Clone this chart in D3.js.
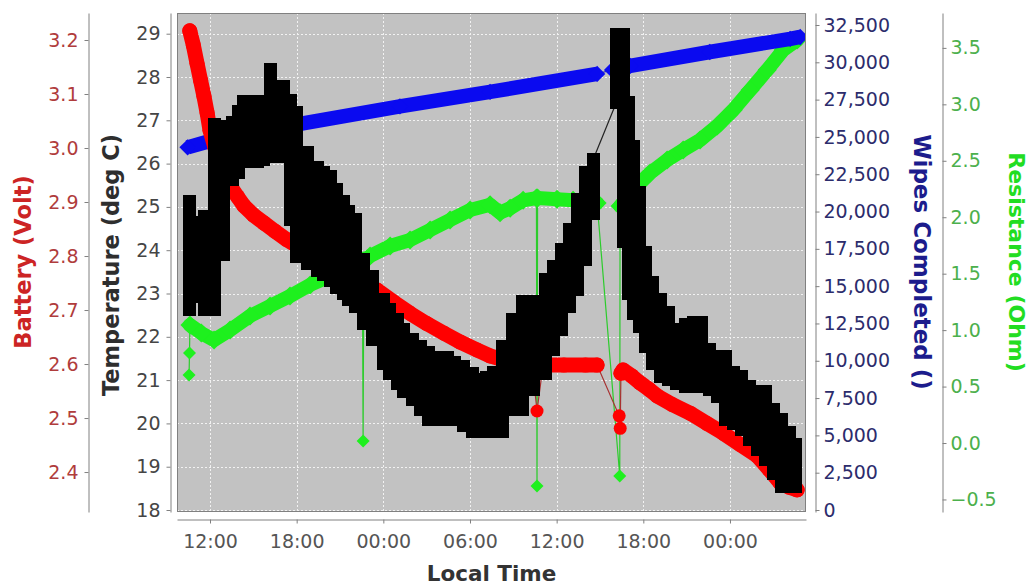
<!DOCTYPE html>
<html><head><meta charset="utf-8">
<script src="https://cdn.jsdelivr.net/npm/d3@7"></script>
<style>
html,body{margin:0;padding:0;background:#fff;}
svg{display:block;font-family:"DejaVu Sans",sans-serif;}
</style></head>
<body><svg id="chart" width="1030" height="588"></svg>
<script>
// ---------------- DATA (hours counted from midnight of the first day) ----------------
const batteryHours = [10.60,10.85,11.10,11.35,11.58,11.80,12.00,12.35,12.69,13.00,13.39,13.90,14.35,15.00,15.74,16.50,17.33,18.02,19.50,21.00,22.50,23.57,24.70,25.85,27.00,28.20,29.30,30.49,31.39,32.50,33.50,34.30,35.06,36.50,38.00,38.80,39.60,40.45,40.60,41.20,41.78,42.40,42.96,44.00,45.24,46.40,47.53,48.70,49.88,50.70,51.47,52.10,52.65];
const batteryVolts = [3.217,3.190,3.157,3.125,3.096,3.065,3.033,3.000,2.972,2.950,2.930,2.910,2.893,2.876,2.861,2.846,2.830,2.819,2.797,2.775,2.752,2.737,2.715,2.694,2.675,2.657,2.641,2.626,2.615,2.606,2.600,2.599,2.598,2.598,2.598,2.598,null,2.583,2.589,2.578,2.565,2.553,2.541,2.525,2.509,2.490,2.472,2.451,2.430,2.405,2.380,2.372,2.367];
const batterySpikeHours = [34.64,40.33,40.40];
const batterySpikeVolts = [2.513,2.504,2.481];

const tempHours = [10.61,11.17,11.65,12.28,12.90,13.59,13.94,14.35,14.84,15.32,15.70,16.16,17.06,17.54,18.02,18.72,19.41,19.86,20.31,20.76,21.21,21.62,22.04,22.60,23.22,23.98,24.46,24.95,25.43,25.99,26.54,27.10,27.72,28.41,28.96,29.52,30.14,30.70,31.15,31.60,32.22,32.91,33.61,34.37,35.20,35.75,36.31,36.86,37.42,37.97,38.52,40.12,40.60,40.95,41.29,41.71,42.12,42.61,43.16,43.72,44.27,44.90,45.45,46.00,46.56,47.11,47.67,48.22,48.77,49.33,49.88,50.43,50.99,51.54,52.10,52.51];
const tempLow  = [22.63,22.93,22.63,22.63,23.90,25.63,25.80,26.05,26.05,26.05,26.10,26.16,26.16,24.70,23.85,23.69,23.53,23.44,23.30,23.14,23.00,22.86,22.70,22.31,21.94,21.38,21.15,20.92,20.74,20.55,20.32,20.09,20.09,20.09,20.09,19.95,19.81,19.81,19.81,19.81,19.81,20.32,20.32,20.78,21.15,21.71,22.17,22.70,23.09,23.79,24.85,27.40,24.20,23.00,22.54,22.24,21.78,21.38,21.08,21.01,20.92,20.85,20.85,20.85,20.78,20.62,20.09,20.00,19.86,19.63,19.40,19.17,18.84,18.54,18.54,18.54];
const tempHigh = [25.12,24.64,24.78,26.90,26.86,26.95,27.20,27.43,27.43,27.43,27.43,28.17,27.78,27.45,27.18,26.26,25.91,25.80,25.70,25.40,25.12,24.90,24.71,23.79,23.39,22.86,22.63,22.40,22.17,21.94,21.78,21.64,21.52,21.52,21.40,21.31,21.15,21.01,21.05,21.18,21.78,22.40,22.82,22.82,23.32,23.62,24.02,24.48,25.17,25.79,26.09,28.98,28.98,27.41,26.39,25.33,23.95,23.25,22.86,22.56,22.17,22.28,22.33,22.33,21.71,21.55,21.55,21.18,21.08,20.85,20.74,20.74,20.32,20.09,19.79,19.51];

const wipesHours = [10.45,12.00,18.23,25.15,31.39,38.80,39.30,39.84,41.09,46.60,52.17,52.86];
const wipesCount = [24300,24730,25870,27050,28016,29223,null,29490,29760,30690,31568,31700];

const resistHours = [10.61,11.40,12.28,13.39,14.77,16.16,17.54,18.93,20.31,21.70,22.55,22.65,23.08,24.47,25.85,27.24,28.62,30.01,31.39,32.08,32.78,33.68,34.60,34.68,36.03,37.14,38.32,38.80,39.60,40.39,41.29,42.47,43.65,44.76,45.93,47.11,48.22,49.40,50.57,51.68,52.65];
const resistOhm = [1.045,0.974,0.912,1.000,1.125,1.213,1.302,1.400,1.479,1.568,1.610,1.615,1.656,1.745,1.798,1.887,1.975,2.064,2.110,2.040,2.080,2.150,2.170,2.170,2.160,2.150,2.130,2.126,null,2.099,2.241,2.392,2.507,2.595,2.684,2.808,2.950,3.127,3.304,3.481,3.570];
const resistSpikeHours = [10.55,10.58,22.60,34.64,40.37];
const resistSpikeOhm = [0.602,0.797,0.018,-0.381,-0.292];

const batteryTicks = [2.4,2.5,2.6,2.7,2.8,2.9,3.0,3.1,3.2];
const tempTicks = [18,19,20,21,22,23,24,25,26,27,28,29];
const wipesTicks = [0,2500,5000,7500,10000,12500,15000,17500,20000,22500,25000,27500,30000,32500];
const resistTicks = [-0.5,0,0.5,1.0,1.5,2.0,2.5,3.0,3.5];

const titles = {battery:"Battery (Volt)", temp:"Temperature (deg C)", wipes:"Wipes Completed ()", resist:"Resistance (Ohm)", time:"Local Time"};

// ---------------- SETUP ----------------
const day0 = new Date(2011, 5, 6, 0, 0, 0);
const T = h => new Date(day0.getTime() + h * 3600000);
const svg = d3.select("#chart");
const P = {left:177, right:806, top:13, bottom:512};
const FONT = '"DejaVu Sans", sans-serif';

const x = d3.scaleTime().domain([T(9.715), T(53.263)]).range([P.left, P.right]);
const yB = d3.scaleLinear().domain([2.326, 3.25]).range([P.bottom, P.top]);
const yT = d3.scaleLinear().domain([17.954, 29.478]).range([P.bottom, P.top]);
const yW = d3.scaleLinear().domain([-134, 33304]).range([P.bottom, P.top]);
const yR = d3.scaleLinear().domain([-0.611, 3.809]).range([P.bottom, P.top]);

// plot background
svg.append("rect").attr("x",P.left).attr("y",P.top).attr("width",P.right-P.left).attr("height",P.bottom-P.top).attr("fill","#c2c2c2");

// gridlines
const timeTicks = x.ticks(d3.timeHour.every(6));
const grid = svg.append("g").attr("stroke","#f2f2f2").attr("stroke-width",1).attr("stroke-dasharray","2,2");
grid.selectAll("line.v").data(timeTicks).join("line").attr("class","v")
  .attr("x1",d=>Math.round(x(d))+0.5).attr("x2",d=>Math.round(x(d))+0.5).attr("y1",P.top).attr("y2",P.bottom);
grid.selectAll("line.h").data(tempTicks).join("line").attr("class","h")
  .attr("y1",d=>Math.round(yT(d))+0.5).attr("y2",d=>Math.round(yT(d))+0.5).attr("x1",P.left).attr("x2",P.right);

svg.append("clipPath").attr("id","clip").append("rect").attr("x",P.left).attr("y",P.top).attr("width",P.right-P.left).attr("height",P.bottom-P.top);
const layer = svg.append("g").attr("clip-path","url(#clip)");

const diamond = s => `M0,${-s}L${s},0L0,${s}L${-s},0Z`;

function drawSeries(g, hours, values, spikeH, spikeV, y, o) {
  const main = hours.map((h,i)=>({t:T(h), v:values[i]}));
  const spikes = spikeH.map((h,i)=>({t:T(h), v:spikeV[i]}));
  const all = main.filter(d=>d.v!=null).concat(spikes).sort((a,b)=>a.t-b.t);
  g.append("path").datum(all).attr("fill","none").attr("stroke",o.thin).attr("stroke-width",1.2)
    .attr("d", d3.line().x(d=>x(d.t)).y(d=>y(d.v)));
  g.append("path").datum(main).attr("fill","none").attr("stroke",o.color).attr("stroke-width",o.band)
    .attr("stroke-linecap",o.cap).attr("stroke-linejoin","round")
    .attr("d", d3.line().defined(d=>d.v!=null).x(d=>x(d.t)).y(d=>y(d.v)));
  const pts = main.filter(d=>d.v!=null);
  if (o.shape === "circle") {
    g.selectAll(null).data(pts).join("circle").attr("cx",d=>x(d.t)).attr("cy",d=>y(d.v)).attr("r",o.size).attr("fill",o.color);
  } else {
    g.selectAll(null).data(pts).join("path").attr("transform",d=>`translate(${x(d.t)},${y(d.v)})`).attr("d",diamond(o.size)).attr("fill",o.color);
  }
  return spikes;
}

// resistance (green)
const gG = layer.append("g");
const rSp = drawSeries(gG, resistHours, resistOhm, resistSpikeHours, resistSpikeOhm, yR, {color:"#1ef01e", thin:"#2ccc2c", band:14, cap:"round", shape:"diamond", size:9.5});
gG.selectAll(null).data(rSp).join("path").attr("transform",d=>`translate(${x(d.t)},${yR(d.v)})`).attr("d",diamond(6.5)).attr("fill","#1ef01e");

// wipes (blue)
const gW = layer.append("g");
drawSeries(gW, wipesHours, wipesCount, [], [], yW, {color:"#0a0af0", thin:"#3a3ab0", band:14.5, cap:"butt", shape:"diamond", size:8.2});

// battery (red)
const gB = layer.append("g");
const bSp = drawSeries(gB, batteryHours, batteryVolts, batterySpikeHours, batterySpikeVolts, yB, {color:"#ff0000", thin:"#a83030", band:15, cap:"round", shape:"circle", size:7.5});

// temperature (black) – columns of square markers from low to high reading
const SQ = 13;
const gT = layer.append("g");
const tcols = tempHours.map((h,i)=>({t:T(h), lo:tempLow[i], hi:tempHigh[i], h:h}));
for (let i=0;i<tcols.length-1;i++){
  if (tcols[i+1].h - tcols[i].h > 1.0) {
    gT.append("line").attr("x1",x(tcols[i].t)).attr("y1",yT(tcols[i].hi)).attr("x2",x(tcols[i+1].t)).attr("y2",yT(tcols[i+1].lo))
      .attr("stroke","#222").attr("stroke-width",1.2);
  }
}
gT.selectAll("rect").data(tcols).join("rect")
  .attr("x",d=>x(d.t)-SQ/2).attr("width",SQ)
  .attr("y",d=>yT(d.hi)-SQ/2).attr("height",d=>yT(d.lo)-yT(d.hi)+SQ)
  .attr("fill","#000").attr("shape-rendering","crispEdges");

// battery spikes on top
layer.append("g").selectAll("circle").data(bSp).join("circle")
  .attr("cx",d=>x(d.t)).attr("cy",d=>yB(d.v)).attr("r",6.5).attr("fill","#ff0000");

// plot outline
svg.append("rect").attr("x",P.left+0.5).attr("y",P.top+0.5).attr("width",P.right-P.left-1).attr("height",P.bottom-P.top-1)
  .attr("fill","none").attr("stroke","#808080").attr("stroke-width",1);

// ---------------- AXES ----------------
function styleAxis(g, lineColor, textColor){
  g.attr("font-family",FONT).attr("font-size",19);
  g.select(".domain").attr("stroke",lineColor);
  g.selectAll(".tick line").attr("stroke",lineColor);
  g.selectAll(".tick text").attr("fill",textColor);
}
const axB = svg.append("g").attr("transform","translate(88.5,0)")
  .call(d3.axisLeft(yB).tickValues(batteryTicks).tickFormat(d3.format(".1f")).tickSize(4).tickSizeOuter(0).tickPadding(6));
styleAxis(axB,"#808080","#b03c3c");
const axT = svg.append("g").attr("transform","translate(170.5,0)")
  .call(d3.axisLeft(yT).tickValues(tempTicks).tickFormat(d3.format("d")).tickSize(4).tickSizeOuter(0).tickPadding(6));
styleAxis(axT,"#808080","#454545");
const axW = svg.append("g").attr("transform","translate(815.5,0)")
  .call(d3.axisRight(yW).tickValues(wipesTicks).tickFormat(d3.format(",")).tickSize(4).tickSizeOuter(0).tickPadding(4));
styleAxis(axW,"#808080","#2c2c6c");
const axR = svg.append("g").attr("transform","translate(942.5,0)")
  .call(d3.axisRight(yR).tickValues(resistTicks).tickFormat(d3.format(".1f")).tickSize(4).tickSizeOuter(0).tickPadding(4));
styleAxis(axR,"#808080","#4cb04c");
const axX = svg.append("g").attr("transform","translate(0,519.5)")
  .call(d3.axisBottom(x).ticks(d3.timeHour.every(6)).tickFormat(d3.timeFormat("%H:%M")).tickSize(4).tickSizeOuter(0).tickPadding(11));
styleAxis(axX,"#808080","#555555");

// axis titles
function title(txt, tx, ty, rot, color, size){
  svg.append("text").attr("transform",`translate(${tx},${ty}) rotate(${rot})`)
    .attr("text-anchor","middle").attr("font-family",FONT).attr("font-weight","bold")
    .attr("font-size",size).attr("fill",color).text(txt);
}
title(titles.battery, 31, 262, -90, "#cc2424", 22.5);
title(titles.temp, 119, 265, -90, "#2e2e2e", 22.5);
title(titles.wipes, 914, 262, 90, "#1c1c8c", 23);
title(titles.resist, 1009, 262, 90, "#22dd22", 22);
title(titles.time, 491.5, 581, 0, "#333333", 21.5);
</script>
</body></html>
